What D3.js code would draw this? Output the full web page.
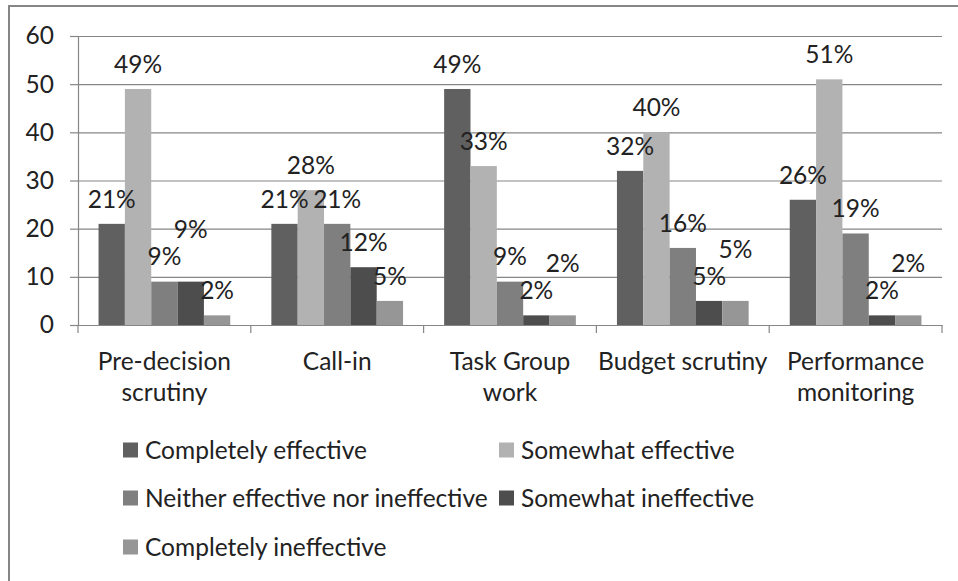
<!DOCTYPE html>
<html>
<head>
<meta charset="utf-8">
<script src="https://cdn.jsdelivr.net/npm/d3@7"></script>
<style>
  html, body { margin: 0; padding: 0; background: #fff; }
  svg { display: block; }
  text { font-family: Lato, "Open Sans", sans-serif; fill: #222; }
</style>
</head>
<body>
<svg id="chart" width="958" height="581"></svg>
<script>
const categories = ["Pre-decision scrutiny", "Call-in", "Task Group work", "Budget scrutiny", "Performance monitoring"];
const categoryLines = [["Pre-decision", "scrutiny"], ["Call-in"], ["Task Group", "work"], ["Budget scrutiny"], ["Performance", "monitoring"]];
const seriesNames = ["Completely effective", "Somewhat effective", "Neither effective nor ineffective", "Somewhat ineffective", "Completely ineffective"];
const completelyEffective   = [21, 21, 49, 32, 26];
const somewhatEffective     = [49, 28, 33, 40, 51];
const neither               = [9, 21, 9, 16, 19];
const somewhatIneffective   = [9, 12, 2, 5, 2];
const completelyIneffective = [2, 5, 2, 5, 2];
const yTicks = [0, 10, 20, 30, 40, 50, 60];
const colors = ["#606060", "#b2b2b2", "#7f7f7f", "#4d4d4d", "#969696"];

const seriesValues = [completelyEffective, somewhatEffective, neither, somewhatIneffective, completelyIneffective];

const FS = 24.5;
const svg = d3.select("#chart");
const W = 958, H = 581;

// outer border
svg.append("rect").attr("x", 9).attr("y", 6).attr("width", W).attr("height", H)
  .attr("fill", "#fff").attr("stroke", "#868686").attr("stroke-width", 2);

const plotL = 78, plotR = 942, plotT = 36, plotB = 325;

const y = d3.scaleLinear().domain([0, 60]).range([plotB, plotT]);
const x0 = d3.scaleBand().domain(categories).range([plotL, plotR]).padding(0);
const x1 = d3.scaleBand().domain(seriesNames).range([0, x0.bandwidth()]).paddingInner(0).paddingOuter(0.78);

// gridlines + y axis
const yAxis = d3.axisLeft(y).tickValues(yTicks).tickSize(8).tickPadding(16).tickFormat(d3.format("d"));
const gy = svg.append("g").attr("transform", `translate(${plotL},0)`).call(yAxis);
gy.select(".domain").attr("stroke", "#868686").attr("stroke-width", 1.2);
gy.selectAll(".tick line").attr("stroke", "#868686").attr("stroke-width", 1.2);
gy.selectAll(".tick text").attr("font-size", FS).attr("font-family", "Lato").attr("fill", "#222");
gy.selectAll(".tick").append("line").attr("x1", 0).attr("x2", plotR - plotL)
  .attr("stroke", "#868686").attr("stroke-width", 1.2);

// x axis
const xAxis = d3.axisBottom(x0).tickSize(0).tickFormat("");
const gx = svg.append("g").attr("transform", `translate(0,${plotB})`).call(xAxis);
gx.select(".domain").attr("stroke", "#868686").attr("stroke-width", 1.2);
const boundaries = categories.map(c => x0(c)).concat([x0(categories[categories.length - 1]) + x0.bandwidth()]);
gx.selectAll(".bnd").data(boundaries).enter().append("line")
  .attr("x1", d => d).attr("x2", d => d).attr("y1", 0).attr("y2", 8)
  .attr("stroke", "#868686").attr("stroke-width", 1.2);

// category labels
categories.forEach((c, i) => {
  const t = svg.append("text").attr("text-anchor", "middle").attr("font-size", FS)
    .attr("x", x0(c) + x0.bandwidth() / 2).attr("y", 370);
  categoryLines[i].forEach((ln, j) => {
    t.append("tspan").attr("x", x0(c) + x0.bandwidth() / 2).attr("dy", j === 0 ? 0 : 31).text(ln);
  });
});

// bars
const bars = [];
categories.forEach((c, i) => {
  seriesNames.forEach((s, k) => {
    bars.push({ cat: c, ser: s, k, v: seriesValues[k][i] });
  });
});
svg.append("g").selectAll("rect").data(bars).enter().append("rect")
  .attr("x", d => x0(d.cat) + x1(d.ser))
  .attr("y", d => y(d.v))
  .attr("width", x1.bandwidth())
  .attr("height", d => plotB - y(d.v))
  .attr("fill", d => colors[d.k]);

// data labels (outside end, nudged up when colliding with the previous label)
categories.forEach((c, i) => {
  let prev = null;
  seriesNames.forEach((s, k) => {
    const v = seriesValues[k][i];
    const cx = x0(c) + x1(s) + x1.bandwidth() / 2;
    let cy = y(v) - 25;
    if (prev && Math.abs(prev.cy - cy) < 20) cy = prev.cy - 27;
    svg.append("text").attr("text-anchor", "middle").attr("font-size", FS)
      .attr("x", cx).attr("y", cy).attr("dy", "0.36em").text(v + "%");
    prev = { cy };
  });
});

// legend
const legendPos = [[123, 450], [499, 450], [123, 498], [499, 498], [123, 547]];
seriesNames.forEach((s, k) => {
  const [lx, ly] = legendPos[k];
  svg.append("rect").attr("x", lx).attr("y", ly - 7.5).attr("width", 15).attr("height", 15).attr("fill", colors[k]);
  svg.append("text").attr("x", lx + 22).attr("y", ly).attr("dy", "0.36em").attr("font-size", FS).text(s);
});
</script>
</body>
</html>
